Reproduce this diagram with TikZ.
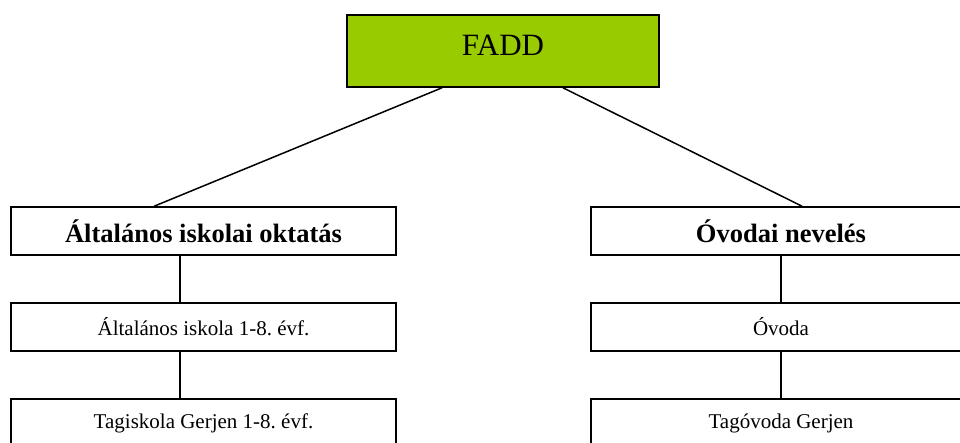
\documentclass[tikz,border=0pt]{standalone}
\usepackage{fontspec}
\setmainfont{Liberation Serif}
\usetikzlibrary{positioning,calc}
\definecolor{faddgreen}{HTML}{99CC00}
\frenchspacing
\begin{document}
\begin{tikzpicture}[x=1pt,y=-1pt]
% all boxes are plain rectangles, sizes taken in pixels
\tikzset{unit/.style={draw, line width=1.6pt, rectangle, inner sep=0pt, minimum width=385pt, minimum height=48pt}}
\tikzset{head/.style={unit, font=\fontsize{26.5}{30}\selectfont\bfseries}}
\tikzset{sub/.style={unit, font=\fontsize{21}{25}\selectfont}}
\tikzset{link/.style={line width=1.5pt}}
\useasboundingbox (0,0) rectangle (960,442);
\clip (0,0) rectangle (960,442);

\node[draw, line width=1.6pt, fill=faddgreen, inner sep=0pt, minimum width=312pt, minimum height=72pt, text depth=11pt, font=\fontsize{31}{36}\selectfont] at (503,51) (fadd) {FADD};

\node[head] at (203.5,231) (iskola) {Általános iskolai oktatás};
\node[sub] at (203.5,327) (iskola1) {Általános iskola 1-8. évf.};
\node[sub] at (203.5,423) (iskola2) {Tagiskola Gerjen 1-8. évf.};

\node[head, minimum width=380pt] at (781,231) (ovoda) {Óvodai nevelés};
\node[sub, minimum width=380pt] at (781,327) (ovoda1) {Óvoda};
\node[sub, minimum width=380pt] at (781,423) (ovoda2) {Tagóvoda Gerjen};

\draw[link] ([xshift=-61pt]fadd.south) -- ([xshift=144pt]iskola.north west);
\draw[link] ([xshift=60pt]fadd.south) -- ([xshift=21pt]ovoda.north);

\draw[link] ([xshift=-23.5pt]iskola.south) -- ([xshift=-23.5pt]iskola1.north);
\draw[link] ([xshift=-23.5pt]iskola1.south) -- ([xshift=-23.5pt]iskola2.north);

\draw[link] (ovoda.south) -- (ovoda1.north);
\draw[link] (ovoda1.south) -- (ovoda2.north);
\end{tikzpicture}
\end{document}
